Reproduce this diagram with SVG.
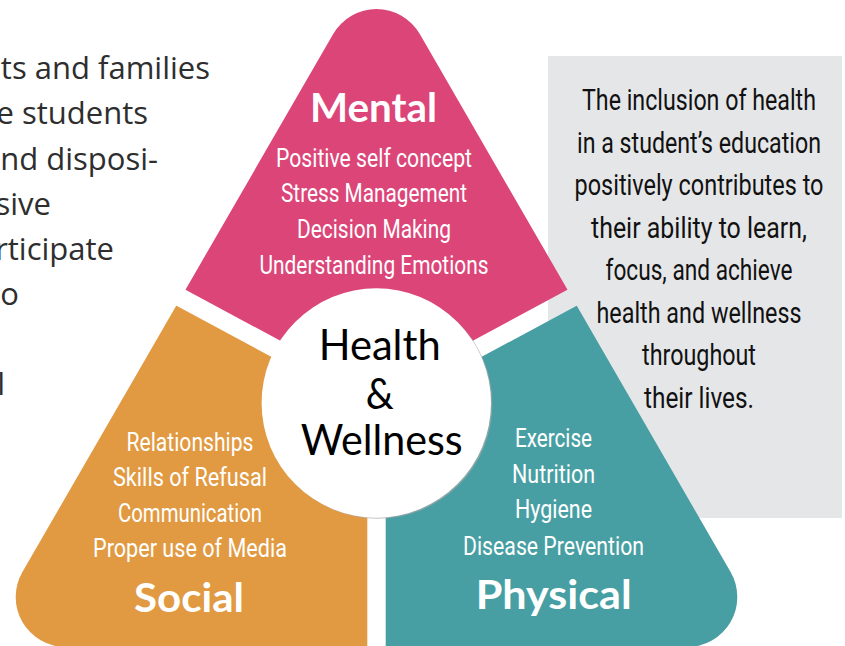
<svg xmlns="http://www.w3.org/2000/svg" width="845" height="646" viewBox="0 0 845 646">
<style>
.body{font-family:"Open Sans","Noto Sans",sans-serif;font-size:31px;fill:#2e2e2e;text-anchor:end}
.info{font-family:Roboto,"Liberation Sans",sans-serif;font-size:29px;fill:#111;text-anchor:middle}
.item{font-family:Roboto,"Liberation Sans",sans-serif;font-size:25px;fill:#fff;text-anchor:middle}
.title{font-family:Lato,"DejaVu Sans",sans-serif;font-weight:bold;font-size:40px;fill:#fff;text-anchor:middle}
.hw{font-family:Lato,"DejaVu Sans",sans-serif;font-size:42px;fill:#000;text-anchor:middle}
</style>
<defs>
<path id="tri" d="M65.7 647 L687.3 647 A50 50 0 0 0 730.6 572 L419.8 34 A50 50 0 0 0 333.2 34 L22.4 572 A50 50 0 0 0 65.7 647 Z"/>
<clipPath id="cm"><polygon points="376.5,392.55 -100,136 -100,-100 900,-100 900,110.7"/></clipPath>
<clipPath id="cs"><polygon points="367.3,408.5 -100,156.9 -100,700 367.3,700"/></clipPath>
<clipPath id="cp"><polygon points="385.7,408.5 900,131.6 900,700 385.7,700"/></clipPath>
</defs>
<rect width="845" height="646" fill="#fff"/>
<g id="left-text">
<text class="body" x="210" y="79">ts and families</text>
<text class="body" x="148" y="124">e students</text>
<text class="body" x="158" y="169.5">nd disposi-</text>
<text class="body" x="51" y="214.5">sive</text>
<text class="body" x="114" y="260">rticipate</text>
<text class="body" x="19" y="305">o</text>
<text class="body" x="5" y="395">l</text>
</g>
<g id="info-box">
<rect x="548" y="56" width="294" height="462" fill="#e5e6e8"/>
<text class="info" x="699" y="110" textLength="234" lengthAdjust="spacingAndGlyphs">The inclusion of health</text>
<text class="info" x="699" y="152.5" textLength="244" lengthAdjust="spacingAndGlyphs">in a student’s education</text>
<text class="info" x="699" y="195" textLength="249" lengthAdjust="spacingAndGlyphs">positively contributes to</text>
<text class="info" x="699" y="237.5" textLength="216" lengthAdjust="spacingAndGlyphs">their ability to learn,</text>
<text class="info" x="699" y="280" textLength="187" lengthAdjust="spacingAndGlyphs">focus, and achieve</text>
<text class="info" x="699" y="322.5" textLength="205" lengthAdjust="spacingAndGlyphs">health and wellness</text>
<text class="info" x="699" y="365" textLength="114" lengthAdjust="spacingAndGlyphs">throughout</text>
<text class="info" x="699" y="407.5" textLength="110" lengthAdjust="spacingAndGlyphs">their lives.</text>
</g>
<g id="mental">
<use href="#tri" fill="#dc4578" clip-path="url(#cm)"/>
<text class="title" x="373.5" y="121.7" textLength="127" lengthAdjust="spacingAndGlyphs">Mental</text>
<text class="item" x="374" y="166.7" textLength="196" lengthAdjust="spacingAndGlyphs">Positive self concept</text>
<text class="item" x="374" y="202.3" textLength="186" lengthAdjust="spacingAndGlyphs">Stress Management</text>
<text class="item" x="374" y="238.3" textLength="154" lengthAdjust="spacingAndGlyphs">Decision Making</text>
<text class="item" x="374" y="274" textLength="229" lengthAdjust="spacingAndGlyphs">Understanding Emotions</text>
</g>
<g id="social">
<use href="#tri" fill="#e19a42" clip-path="url(#cs)"/>
<text class="item" x="190" y="450.7" textLength="127" lengthAdjust="spacingAndGlyphs">Relationships</text>
<text class="item" x="190" y="485.7" textLength="154" lengthAdjust="spacingAndGlyphs">Skills of Refusal</text>
<text class="item" x="190" y="521.7" textLength="144" lengthAdjust="spacingAndGlyphs">Communication</text>
<text class="item" x="190" y="556.7" textLength="194" lengthAdjust="spacingAndGlyphs">Proper use of Media</text>
<text class="title" x="189" y="611.7" textLength="110" lengthAdjust="spacingAndGlyphs">Social</text>
</g>
<g id="physical">
<use href="#tri" fill="#489fa3" clip-path="url(#cp)"/>
<text class="item" x="553.5" y="446.7" textLength="77" lengthAdjust="spacingAndGlyphs">Exercise</text>
<text class="item" x="553.5" y="483.3" textLength="83" lengthAdjust="spacingAndGlyphs">Nutrition</text>
<text class="item" x="553.5" y="518.3" textLength="77" lengthAdjust="spacingAndGlyphs">Hygiene</text>
<text class="item" x="553.5" y="555" textLength="181" lengthAdjust="spacingAndGlyphs">Disease Prevention</text>
<text class="title" x="553.7" y="609.3" textLength="156" lengthAdjust="spacingAndGlyphs">Physical</text>
</g>
<g id="center">
<circle cx="377.6" cy="404" r="114.7" fill="#a9a9a9" opacity="0.7"/>
<circle cx="376.3" cy="403" r="114.7" fill="#fff"/>
<text class="hw" x="379.7" y="360" textLength="122" lengthAdjust="spacingAndGlyphs">Health</text>
<text class="hw" x="379.7" y="409" textLength="28" lengthAdjust="spacingAndGlyphs">&amp;</text>
<text class="hw" x="381.7" y="455" textLength="162" lengthAdjust="spacingAndGlyphs">Wellness</text>
</g>
<g id="connectors"/>
</svg>
